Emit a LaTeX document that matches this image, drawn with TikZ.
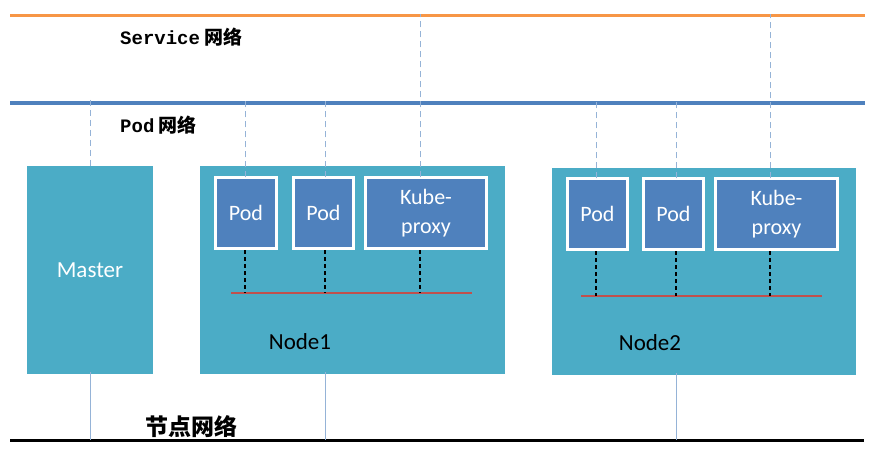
\documentclass[tikz,border=0pt]{standalone}
\usepackage{fontspec}
\setmainfont{Carlito}
\newfontfamily\monofnt{Liberation Mono}
\newfontfamily\cjk{Noto Sans CJK SC}
\definecolor{boxcyan}{HTML}{4BACC6}
\definecolor{podblue}{HTML}{4F81BD}
\definecolor{svcorange}{HTML}{F79646}
\definecolor{lnkblue}{HTML}{95B3D7}
\definecolor{redline}{HTML}{C0504D}
\begin{document}
\begin{tikzpicture}[x=1pt,y=-1pt,
  hostbox/.style={fill=boxcyan,draw=none,inner sep=0pt},
  podbox/.style={fill=podblue,draw=white,line width=3pt,inner sep=0pt,
     text=white,font=\fontsize{22}{29}\selectfont,align=center},
  netlabel/.style={anchor=west,inner sep=0pt,font=\fontsize{19}{22}\selectfont},
  hostlabel/.style={inner sep=0pt,font=\fontsize{23}{26}\selectfont},
  vlink/.style={draw=lnkblue,line width=0.9pt,dash pattern=on 6pt off 4pt},
  podlink/.style={draw=black,line width=1.3pt,dash pattern=on 4pt off 3pt},
  uplink/.style={draw=lnkblue,line width=0.9pt},
  bridge/.style={draw=redline,line width=1.2pt}]
\useasboundingbox (0,0) rectangle (883,457);
\fill[white] (0,0) rectangle (883,457);

% networks
\coordinate (svcL) at (10,16); \coordinate (svcR) at (865,16);
\coordinate (podL) at (10,103); \coordinate (podR) at (865,103);
\coordinate (nodL) at (10,440); \coordinate (nodR) at (864,440);
\draw[svcorange,line width=3pt] (svcL) -- (svcR);
\draw[podblue,line width=4pt] (podL) -- (podR);
\draw[black,line width=3pt] (nodL) -- (nodR);

\node[netlabel] (svclbl) at (120,37) {{\monofnt\bfseries Service} {\cjk\bfseries 网络}};
\node[netlabel] (podlbl) at (120,125) {{\monofnt\bfseries Pod} {\cjk\bfseries 网络}};
\node[netlabel,font=\fontsize{23}{26}\selectfont] (nodlbl) at (145,427) {\cjk\bfseries 节点网络};

% hosts
\node[hostbox,minimum width=126pt,minimum height=208pt,text=white,
      font=\fontsize{23}{26}\selectfont] (master) at (90,270) {Master};
\node[hostbox,minimum width=305pt,minimum height=208pt] (node1) at (352.5,270) {};
\node[hostbox,minimum width=304pt,minimum height=207pt] (node2) at (704,271.5) {};
\node[hostlabel] (n1lbl) at (300,342) {Node1};
\node[hostlabel] (n2lbl) at (650,343) {Node2};

% pods node1
\node[podbox,minimum width=61pt,minimum height=71pt] (p11) at (246,213) {Pod};
\node[podbox,minimum width=60pt,minimum height=71pt] (p12) at (323.5,213) {Pod};
\node[podbox,minimum width=121pt,minimum height=71pt] (k1) at (426,213) {Kube-\\proxy};
% pods node2
\node[podbox,minimum width=60pt,minimum height=71pt] (p21) at (597.5,214) {Pod};
\node[podbox,minimum width=60pt,minimum height=71pt] (p22) at (673.5,214) {Pod};
\node[podbox,minimum width=122pt,minimum height=71pt] (k2) at (776.5,214) {Kube-\\proxy};

% bridges
\coordinate (b1L) at (231,293); \coordinate (b1R) at (472,293);
\coordinate (b2L) at (581,296); \coordinate (b2R) at (822,296);
\draw[bridge] (b1L) -- (b1R);
\draw[bridge] (b2L) -- (b2R);

% pod to bridge
\draw[podlink] ([xshift=-1pt]p11.south) -- ([xshift=-1pt]p11.south |- b1L);
\draw[podlink] ([xshift=1.5pt]p12.south) -- ([xshift=1.5pt]p12.south |- b1L);
\draw[podlink] ([xshift=-6pt]k1.south) -- ([xshift=-6pt]k1.south |- b1L);
\draw[podlink] ([xshift=-1.5pt]p21.south) -- ([xshift=-1.5pt]p21.south |- b2L);
\draw[podlink] ([xshift=2.5pt]p22.south) -- ([xshift=2.5pt]p22.south |- b2L);
\draw[podlink] ([xshift=-6.5pt]k2.south) -- ([xshift=-6.5pt]k2.south |- b2L);

% pod network links
\draw[vlink] ([yshift=3pt]master.north |- podL) -- (master.north);
\draw[vlink] ([xshift=-1pt,yshift=-1.5pt]p11.north) -- ([xshift=-1pt,yshift=2pt]p11.north |- podL);
\draw[vlink] ([xshift=1.5pt,yshift=-1.5pt]p12.north) -- ([xshift=1.5pt,yshift=2pt]p12.north |- podL);
\draw[vlink] ([xshift=-1.5pt,yshift=-1.5pt]p21.north) -- ([xshift=-1.5pt,yshift=2pt]p21.north |- podL);
\draw[vlink] ([xshift=2.5pt,yshift=-1.5pt]p22.north) -- ([xshift=2.5pt,yshift=2pt]p22.north |- podL);
% service network links
\draw[vlink] ([xshift=-6pt,yshift=-1.5pt]k1.north) -- ([xshift=-6pt,yshift=1.5pt]k1.north |- svcL);
\draw[vlink] ([xshift=-6.5pt,yshift=-1.5pt]k2.north) -- ([xshift=-6.5pt,yshift=1.5pt]k2.north |- svcL);

% node network links
\draw[uplink] ([yshift=2pt]master.south) -- (master.south |- nodL);
\draw[uplink] ([xshift=-27.5pt,yshift=2pt]node1.south) -- ([xshift=-27.5pt]node1.south |- nodL);
\draw[uplink] ([xshift=-28pt,yshift=2pt]node2.south) -- ([xshift=-28pt]node2.south |- nodL);
\end{tikzpicture}
\end{document}
